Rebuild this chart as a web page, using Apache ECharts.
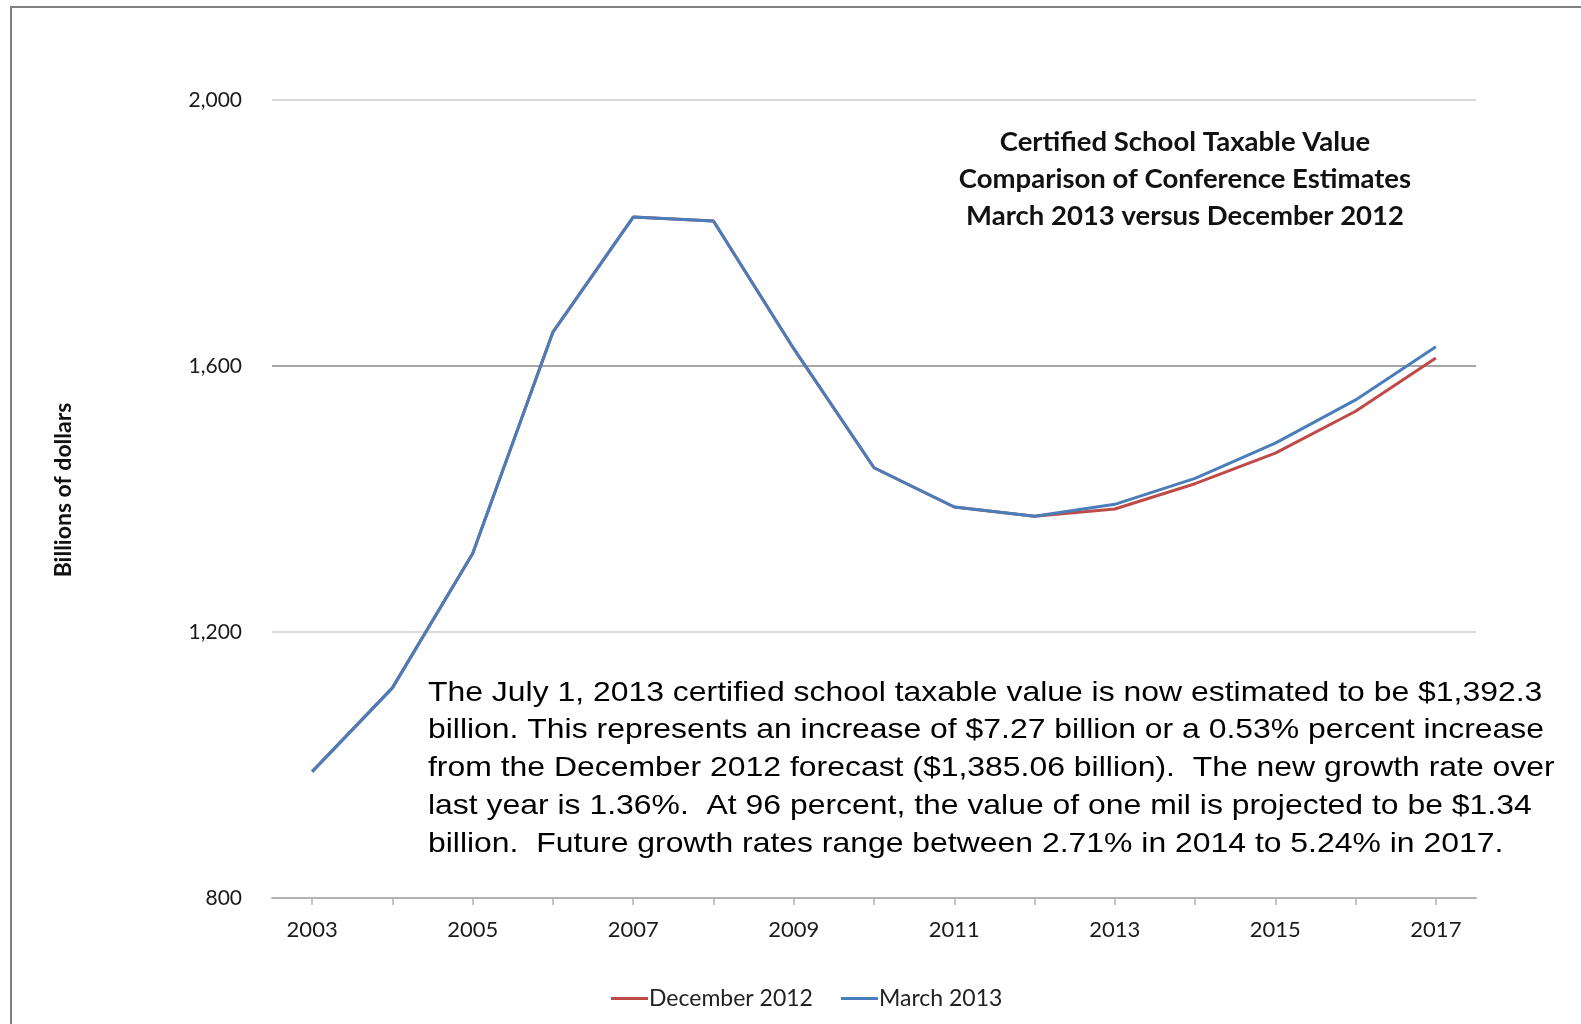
<!DOCTYPE html>
<html>
<head>
<meta charset="utf-8">
<script src="https://cdn.jsdelivr.net/npm/echarts@6/dist/echarts.min.js"></script>
<style>
html,body{margin:0;padding:0;background:#fff;}
#main{width:1581px;height:1024px;}
</style>
</head>
<body>
<div id="main"></div>
<script>
var years = ['2003','2004','2005','2006','2007','2008','2009','2010','2011','2012','2013','2014','2015','2016','2017'];
var december2012 = [990, 1116, 1318, 1651, 1824, 1818, 1626, 1447, 1388, 1374, 1385, 1423, 1469, 1532, 1612];
var march2013 = [990, 1116, 1318, 1651, 1824, 1818, 1626, 1447, 1388, 1374, 1392, 1431, 1484, 1549, 1629];
var yTicks = [800, 1200, 1600, 2000];
var yAxisName = 'Billions of dollars';
var titleLines = ['Certified School Taxable Value', 'Comparison of Conference Estimates', 'March 2013 versus December 2012'];
var noteText = 'The July 1, 2013 certified school taxable value is now estimated to be $1,392.3\nbillion. This represents an increase of $7.27 billion or a 0.53% percent increase\nfrom the December 2012 forecast ($1,385.06 billion).  The new growth rate over\nlast year is 1.36%.  At 96 percent, the value of one mil is projected to be $1.34\nbillion.  Future growth rates range between 2.71% in 2014 to 5.24% in 2017.';

var chart = echarts.init(document.getElementById('main'));
var fontMain = 'Lato, "Open Sans", sans-serif';
chart.setOption({
  backgroundColor: '#ffffff',
  animation: false,
  grid: { left: 272, right: 105, top: 100, bottom: 126 },
  title: {
    text: titleLines.join('\n'),
    left: 1180, top: 119, textAlign: 'center',
    textStyle: { fontFamily: fontMain, fontWeight: 'bold', fontSize: 27.5, lineHeight: 37, color: '#111' }
  },
  legend: {
    bottom: 9, left: 606,
    itemWidth: 37, itemHeight: 3, itemGap: 28,
    icon: 'rect',
    textStyle: { fontFamily: fontMain, fontSize: 23, color: '#222', padding: [0,0,0,-4] },
    data: ['December 2012', 'March 2013']
  },
  xAxis: {
    type: 'category',
    data: years,
    boundaryGap: true,
    axisLine: { lineStyle: { color: '#b3b3b3', width: 2 } },
    axisTick: { show: true, alignWithLabel: true, interval: 0, length: 7, lineStyle: { color: '#b3b3b3', width: 1.5 } },
    axisLabel: { interval: 1, margin: 21, fontFamily: fontMain, fontSize: 22, color: '#1a1a1a' }
  },
  yAxis: {
    type: 'value',
    min: yTicks[0], max: yTicks[yTicks.length - 1], interval: yTicks[1] - yTicks[0],
    axisLine: { show: false },
    axisTick: { show: false },
    axisLabel: {
      margin: 30, fontFamily: fontMain, fontSize: 21, color: '#1a1a1a',
      formatter: function (v) { return v.toLocaleString('en-US'); }
    },
    splitLine: { lineStyle: { color: ['#d9d9d9', '#d9d9d9', '#a6a6a6', '#d9d9d9'], width: 2 } }
  },
  graphic: [
    { type: 'polyline', shape: { points: [[11, 1030], [11, 7], [1590, 7]] }, style: { stroke: '#808080', lineWidth: 2, fill: null } },
    {
      type: 'text', x: 64, y: 490, rotation: Math.PI / 2,
      style: { text: yAxisName, font: 'bold 23px Lato, "Open Sans", sans-serif', fill: '#111', align: 'center', verticalAlign: 'middle' }
    },
    {
      type: 'text', x: 428, y: 674, scaleX: 1.14,
      style: { text: noteText, font: '28px "Liberation Sans", Arial, sans-serif', lineHeight: 37.8, fill: '#000', verticalAlign: 'top' }
    }
  ],
  series: [
    {
      name: 'December 2012', type: 'line', data: december2012,
      symbol: 'none', color: '#be4b48',
      lineStyle: { color: '#be4b48', width: 3 }
    },
    {
      name: 'March 2013', type: 'line', data: march2013,
      symbol: 'none', color: '#4a7ebb',
      lineStyle: { color: '#4a7ebb', width: 3 }
    }
  ]
});
</script>
</body>
</html>
